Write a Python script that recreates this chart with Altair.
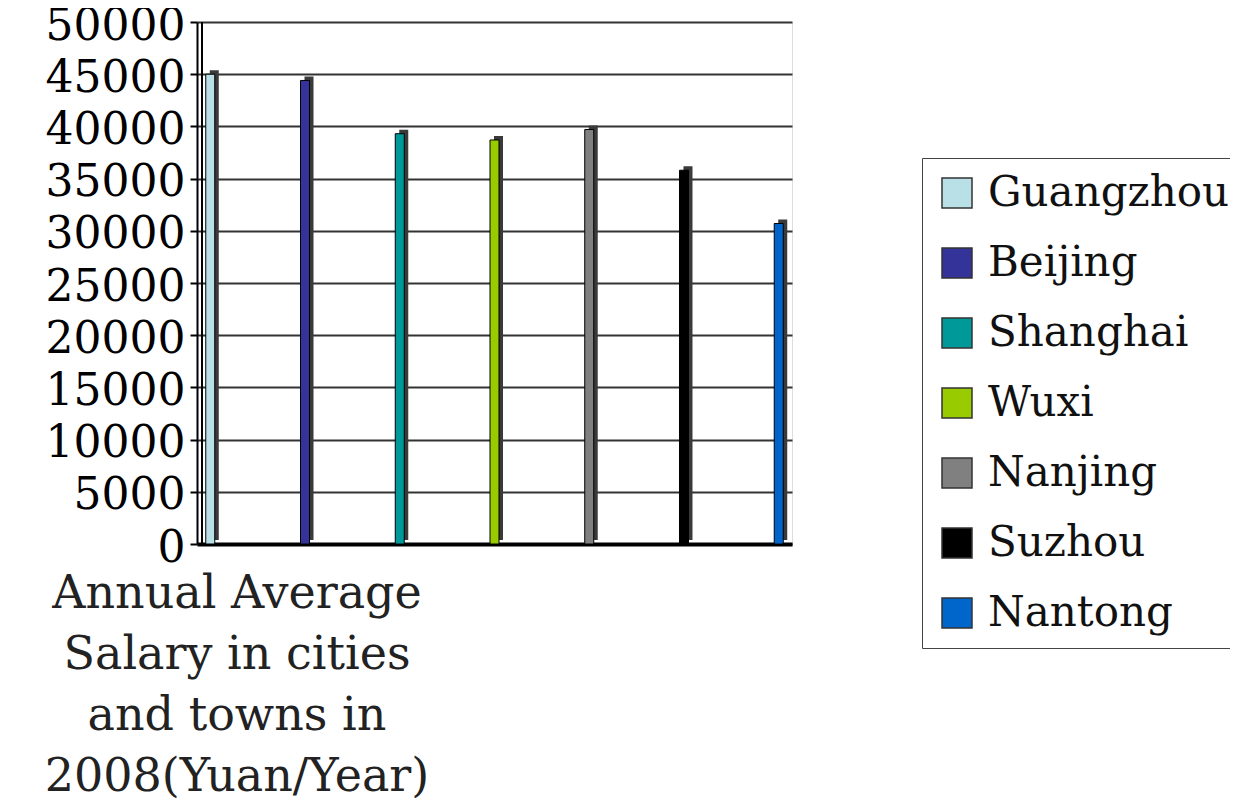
import altair as alt
import pandas as pd

cities = ["Guangzhou", "Beijing", "Shanghai", "Wuxi", "Nanjing", "Suzhou", "Nantong"]
salaries = [45000, 44400, 39300, 38700, 39700, 35800, 30700]
colors = ["#B8E0E6", "#333399", "#009999", "#99CC00", "#808080", "#000000", "#0066CC"]
y_ticks = [0, 5000, 10000, 15000, 20000, 25000, 30000, 35000, 40000, 45000, 50000]
title_lines = ["Annual Average", "Salary in cities", "and towns in", "2008(Yuan/Year)"]

df = pd.DataFrame({"city": cities, "salary": salaries})

FONT = "DejaVu Serif"

x_enc = alt.X("city:N", sort=cities,
              scale=alt.Scale(type="point", padding=0.14),
              axis=alt.Axis(labels=False, ticks=False, title=None, grid=False,
                            domainColor="#000", domainWidth=4))
y_enc = alt.Y("salary:Q",
              scale=alt.Scale(domain=[0, 50000], nice=False),
              axis=alt.Axis(values=y_ticks, format="d", title=None, labelFontSize=44,
                            labelColor="#000", labelFont=FONT, tickSize=7,
                            tickColor="#000", tickWidth=2, labelPadding=5,
                            labelOffset=4,
                            gridColor="#333", gridWidth=2, domainColor="#000",
                            domainWidth=2))

shadow = alt.Chart(df).mark_bar(size=9, color="#3a3a3a", xOffset=4, yOffset=-4).encode(
    x=x_enc, y=y_enc)

front = alt.Chart(df).mark_bar(size=9, stroke="#000", strokeWidth=1).encode(
    x=x_enc, y=y_enc,
    color=alt.Color("city:N", sort=cities,
                    scale=alt.Scale(domain=cities, range=colors),
                    legend=alt.Legend(title=None, orient="none", legendX=725, legendY=136,
                                      symbolType="square", symbolSize=900,
                                      symbolStrokeColor="#333", symbolStrokeWidth=1.5,
                                      labelFontSize=42, labelFont=FONT, labelColor="#111",
                                      labelOffset=10, rowPadding=28, padding=14,
                                      strokeColor="#444", labelLimit=400)))

wall = alt.Chart(df).mark_rule(color="#000", strokeWidth=2).encode(
    x=alt.value(5), y=alt.value(0), y2=alt.value(522))

title_df = pd.DataFrame({"t": ["\n".join(title_lines)]})
title = alt.Chart(title_df).mark_text(font=FONT, fontSize=46, color="#222",
                                      lineBreak="\n", lineHeight=61,
                                      align="center", baseline="top").encode(
    text="t:N", x=alt.value(40), y=alt.value(550))

chart = alt.layer(wall, shadow, front, title).properties(
    width=595, height=522,
    autosize=alt.AutoSizeParams(type="none"),
    padding={"left": 189, "top": 14, "right": 438, "bottom": 255},
).configure_view(stroke="#222", strokeWidth=2).configure(font=FONT)

chart.save("out.html", embed_options={"renderer": "svg", "actions": False})
